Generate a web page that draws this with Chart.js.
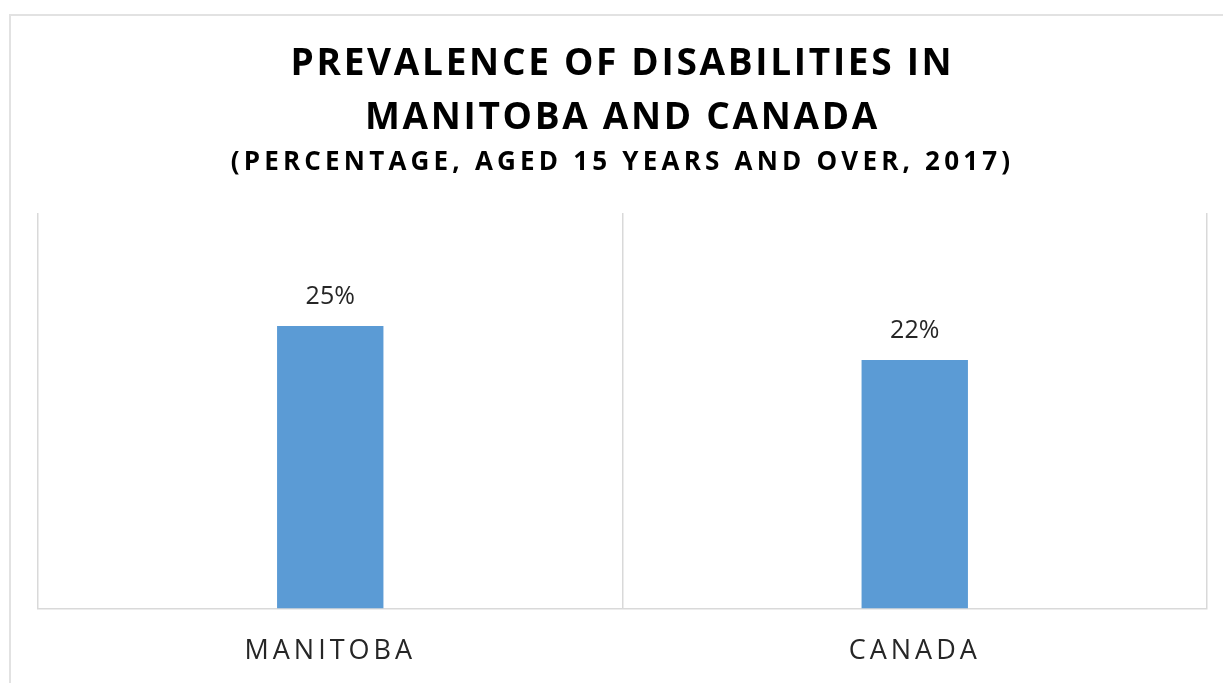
<!DOCTYPE html>
<html>
<head>
<meta charset="utf-8">
<script src="https://cdn.jsdelivr.net/npm/chart.js@4.4.1/dist/chart.umd.min.js"></script>
<style>
  html, body { margin: 0; padding: 0; background: #ffffff; overflow: hidden; }
  #frame { position: absolute; left: 9px; top: 14px; width: 1240px; height: 700px; border: 2px solid #e2e2e2; box-sizing: border-box; }
  #wrap { position: absolute; left: 0; top: 0; width: 1223px; height: 683px; }
</style>
</head>
<body>
<div id="frame"></div>
<div id="wrap"><canvas id="c" width="1223" height="683"></canvas></div>
<script>
const categories = ['MANITOBA', 'CANADA'];
const prevalence = [25, 22];
const titleLines = ['PREVALENCE OF DISABILITIES IN', 'MANITOBA AND CANADA'];
const subtitleText = '(PERCENTAGE, AGED 15 YEARS AND OVER, 2017)';

const FONT = "'Open Sans', 'DejaVu Sans', sans-serif";
const TITLE_SIZE = 37, SUB_SIZE = 26, TICK_SIZE = 27, LABEL_SIZE = 25;
const spacingBySize = { [TITLE_SIZE]: '2.7px', [SUB_SIZE]: '4.2px', [TICK_SIZE]: '4px', [LABEL_SIZE]: '0px' };

const spacingPlugin = {
  id: 'spacing',
  beforeInit(chart) {
    const ctx = chart.ctx;
    const fill = ctx.fillText.bind(ctx);
    const pick = () => {
      const m = /(\d+(?:\.\d+)?)px/.exec(ctx.font);
      const s = m ? Math.round(+m[1]) : 0;
      return spacingBySize[s] || '0px';
    };
    ctx.fillText = function(t, x, y, w) {
      ctx.letterSpacing = pick();
      return w === undefined ? fill(t, x, y) : fill(t, x, y, w);
    };
  }
};

const valueLabels = {
  id: 'valueLabels',
  afterDatasetsDraw(chart) {
    const ctx = chart.ctx;
    const meta = chart.getDatasetMeta(0);
    ctx.save();
    ctx.font = `${LABEL_SIZE}px ${FONT}`;
    ctx.fillStyle = '#262626';
    ctx.textAlign = 'center';
    ctx.textBaseline = 'bottom';
    meta.data.forEach((bar, i) => {
      ctx.fillText(chart.data.datasets[0].data[i] + '%', bar.x, bar.y - 17);
    });
    ctx.restore();
  }
};

new Chart(document.getElementById('c'), {
  type: 'bar',
  data: {
    labels: categories,
    datasets: [{
      data: prevalence,
      backgroundColor: '#5B9BD5',
      borderWidth: 0,
      barPercentage: 1,
      categoryPercentage: 0.182
    }]
  },
  options: {
    responsive: false,
    animation: false,
    devicePixelRatio: 1,
    layout: { padding: { left: 38, right: 16, top: 0, bottom: -12 } },
    plugins: {
      legend: { display: false },
      tooltip: { enabled: false },
      title: {
        display: true,
        text: titleLines,
        color: '#000000',
        font: { family: FONT, size: TITLE_SIZE, weight: 'bold', lineHeight: '54px' },
        padding: { top: 37, bottom: 0 }
      },
      subtitle: {
        display: true,
        text: subtitleText,
        color: '#000000',
        font: { family: FONT, size: SUB_SIZE, weight: 'bold', lineHeight: '30px' },
        padding: { top: 3, bottom: 35 }
      }
    },
    scales: {
      x: {
        offset: true,
        grid: { offset: true, display: true, color: '#d9d9d9', lineWidth: 1.5, drawTicks: false },
        border: { display: true, color: '#d9d9d9', width: 1.5 },
        ticks: {
          color: '#262626',
          padding: 27,
          font: { family: FONT, size: TICK_SIZE, lineHeight: 1.2 }
        }
      },
      y: {
        display: false,
        min: 0,
        max: 35
      }
    }
  },
  plugins: [spacingPlugin, valueLabels]
});
</script>
</body>
</html>
